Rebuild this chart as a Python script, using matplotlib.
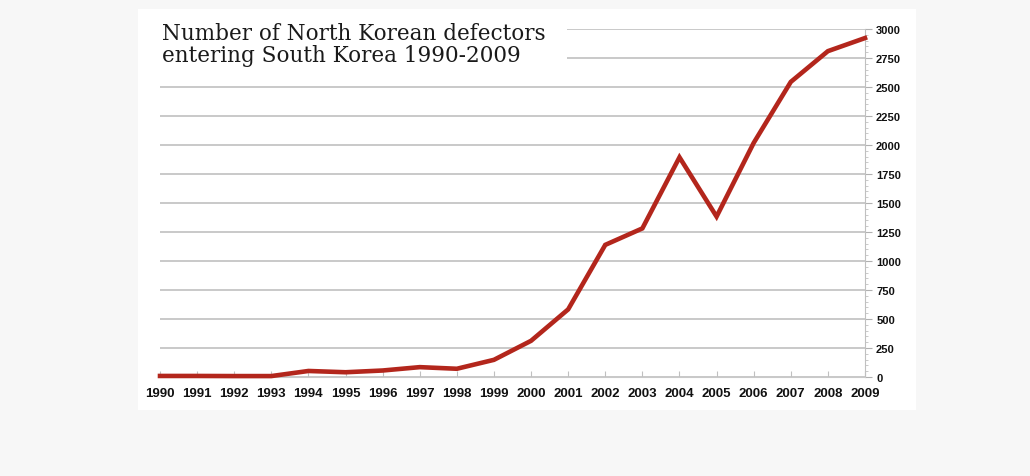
import matplotlib.pyplot as plt
from matplotlib.patches import Rectangle
from matplotlib.ticker import MultipleLocator

years = list(range(1990, 2010))
defectors = [9, 9, 8, 8, 52, 41, 56, 85, 71, 148,
             312, 583, 1139, 1281, 1894, 1383, 2018, 2544, 2809, 2922]
yticks = list(range(0, 3001, 250))
title = 'Number of North Korean defectors\nentering South Korea 1990-2009'

W, H = 1030, 477
fig = plt.figure(figsize=(W / 100, H / 100), dpi=100)
fig.patch.set_facecolor('#f7f7f7')

# white card behind the chart
fig.patches.append(Rectangle((138 / W, 1 - 411 / H), (916 - 138) / W, (411 - 10) / H,
                             transform=fig.transFigure, facecolor='white',
                             edgecolor='none', zorder=-5))

ax = fig.add_axes([160 / W, 1 - 378 / H, (865 - 160) / W, (378 - 30) / H])
ax.set_zorder(2)
ax.set_facecolor('none')
ax.set_xlim(1990, 2009)
ax.set_ylim(0, 3000)

for v in yticks:
    ax.axhline(v, color='#c9c9c9', lw=1.4, zorder=1)

ax.plot(years, defectors, color='#b3261c', lw=3.3, solid_joinstyle='miter', zorder=3,
        clip_on=False)

ax.yaxis.tick_right()
ax.set_yticks(yticks)
ax.set_yticklabels([str(v) for v in yticks])
ax.yaxis.set_minor_locator(MultipleLocator(50))
ax.set_xticks(years)
ax.set_xticklabels([str(y) for y in years])
ax.tick_params(axis='y', which='major', length=5, width=0.8, color='#b0b0b0',
               labelsize=8, pad=3)
ax.tick_params(axis='y', which='minor', length=2, width=0.6, color='#c0c0c0')
ax.tick_params(axis='x', direction='in', length=4, width=0.8, color='#c0c0c0',
               labelsize=9.5, pad=7)
for lab in ax.get_xticklabels() + ax.get_yticklabels():
    lab.set_fontweight('bold')
    lab.set_fontfamily('Liberation Sans')
    lab.set_color('#111111')

for s in ['top', 'left']:
    ax.spines[s].set_visible(False)
ax.spines['right'].set_color('#c0c0c0')
ax.spines['bottom'].set_color('#c9c9c9')

# white block under the title hides the top gridlines
ax.add_patch(Rectangle((150 / W, 1 - 72 / H), (567 - 150) / W, (72 - 18) / H,
                       transform=fig.transFigure, facecolor='white',
                       edgecolor='none', zorder=4, clip_on=False))
ax.text(162 / W, 1 - 23 / H, title, transform=fig.transFigure, ha='left', va='top',
        fontsize=15.5, family='DejaVu Serif', color='#1a1a1a', linespacing=1.0,
        zorder=5)

fig.savefig('out.png', dpi=100, facecolor=fig.get_facecolor())
